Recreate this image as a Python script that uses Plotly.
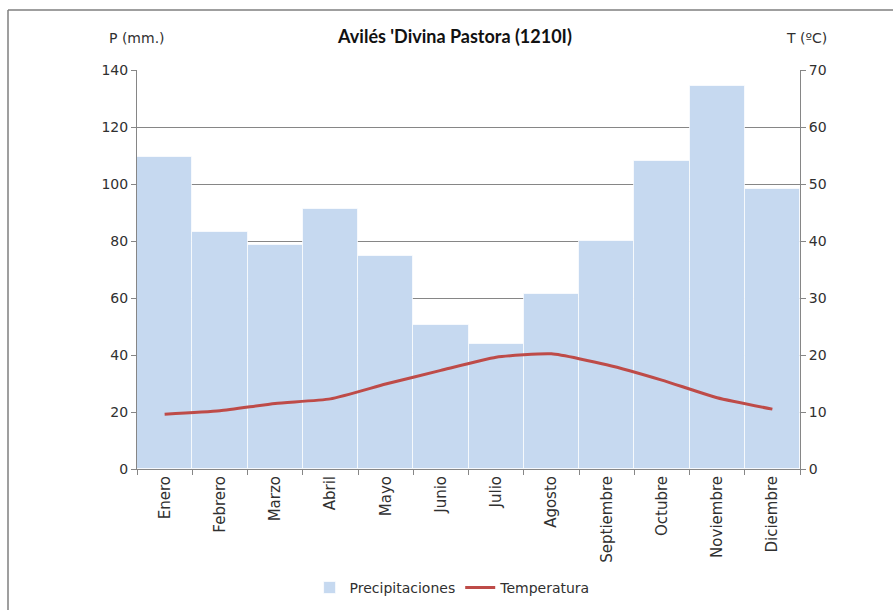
import plotly.graph_objects as go

# Climograma: monthly precipitation (mm) and mean temperature (ºC)
meses = ["Enero", "Febrero", "Marzo", "Abril", "Mayo", "Junio", "Julio",
         "Agosto", "Septiembre", "Octubre", "Noviembre", "Diciembre"]
precipitaciones = [109.5, 83.3, 78.6, 91.3, 74.6, 50.7, 43.9, 61.5, 80.0, 108.1, 134.3, 98.1]
temperatura = [9.6, 10.2, 11.5, 12.3, 14.9, 17.3, 19.6, 20.2, 18.3, 15.6, 12.5, 10.5]

p_ticks = list(range(0, 141, 20))
t_ticks = list(range(0, 71, 10))

AXIS_GREY = "#868686"
TEXT = "#303030"
FONT = "DejaVu Sans"

fig = go.Figure()
fig.add_trace(go.Bar(
    x=meses, y=precipitaciones, name="Precipitaciones",
    marker=dict(color="#C6D9F0", line=dict(color="rgba(255,255,255,0.7)", width=1)),
))
fig.add_trace(go.Scatter(
    x=meses, y=temperatura, name="Temperatura", yaxis="y2",
    mode="lines", line=dict(color="#BE4B48", width=3, shape="spline", smoothing=0.5),
))

fig.update_layout(
    width=893, height=610,
    margin=dict(l=137, r=93, t=70, b=141, autoexpand=False),
    paper_bgcolor="white", plot_bgcolor="white",
    bargap=0,
    showlegend=True,
    legend=dict(orientation="h", x=0.476, xanchor="center", y=-0.298, yanchor="middle",
                font=dict(family=FONT, size=14, color=TEXT), itemwidth=30),
    font=dict(family=FONT, size=12, color=TEXT),
    xaxis=dict(
        type="category", tickangle=-90, ticks="outside", tickson="boundaries",
        ticklen=5, tickcolor=AXIS_GREY, showline=True, linecolor=AXIS_GREY,
        linewidth=1, showgrid=False, automargin=False,
        tickfont=dict(family=FONT, size=15, color=TEXT),
        range=[-0.5, 11.5],
    ),
    yaxis=dict(
        range=[0, 140], tickvals=p_ticks, ticks="outside", ticklen=5,
        tickcolor=AXIS_GREY, showline=True, linecolor=AXIS_GREY, linewidth=1,
        showgrid=True, gridcolor=AXIS_GREY, gridwidth=1, zeroline=False,
        automargin=False, tickfont=dict(family=FONT, size=14, color=TEXT),
    ),
    yaxis2=dict(
        range=[0, 70], tickvals=t_ticks, overlaying="y", side="right",
        ticks="outside", ticklen=5, tickcolor=AXIS_GREY, showline=True,
        linecolor=AXIS_GREY, linewidth=1, showgrid=False, zeroline=False,
        automargin=False, tickfont=dict(family=FONT, size=14, color=TEXT),
    ),
    title=dict(text="<b>Avilés 'Divina Pastora (1210I)</b>", x=455 / 893, xanchor="center",
               y=1 - 37 / 610, yanchor="middle",
               font=dict(family="Lato", size=18, color="#111111")),
)

# Axis captions
fig.add_annotation(text="P (mm.)", xref="paper", yref="paper",
                   x=0, y=(469 - 38) / 399, xanchor="center",
                   yanchor="middle", showarrow=False,
                   font=dict(family=FONT, size=14, color=TEXT))
fig.add_annotation(text="T (ºC)", xref="paper", yref="paper",
                   x=(806 - 137) / 663, y=(469 - 38) / 399, xanchor="center",
                   yanchor="middle", showarrow=False,
                   font=dict(family=FONT, size=14, color=TEXT))

# Chart frame (top and left edges)
fig.add_shape(type="line", xref="paper", yref="paper",
              x0=(8 - 137) / 663, x1=(893 - 137) / 663,
              y0=(469 - 10) / 399, y1=(469 - 10) / 399,
              line=dict(color="#7F7F7F", width=1.5))
fig.add_shape(type="line", xref="paper", yref="paper",
              x0=(8 - 137) / 663, x1=(8 - 137) / 663,
              y0=(469 - 10) / 399, y1=(469 - 610) / 399,
              line=dict(color="#7F7F7F", width=1.5))

fig.write_html("out.html")
